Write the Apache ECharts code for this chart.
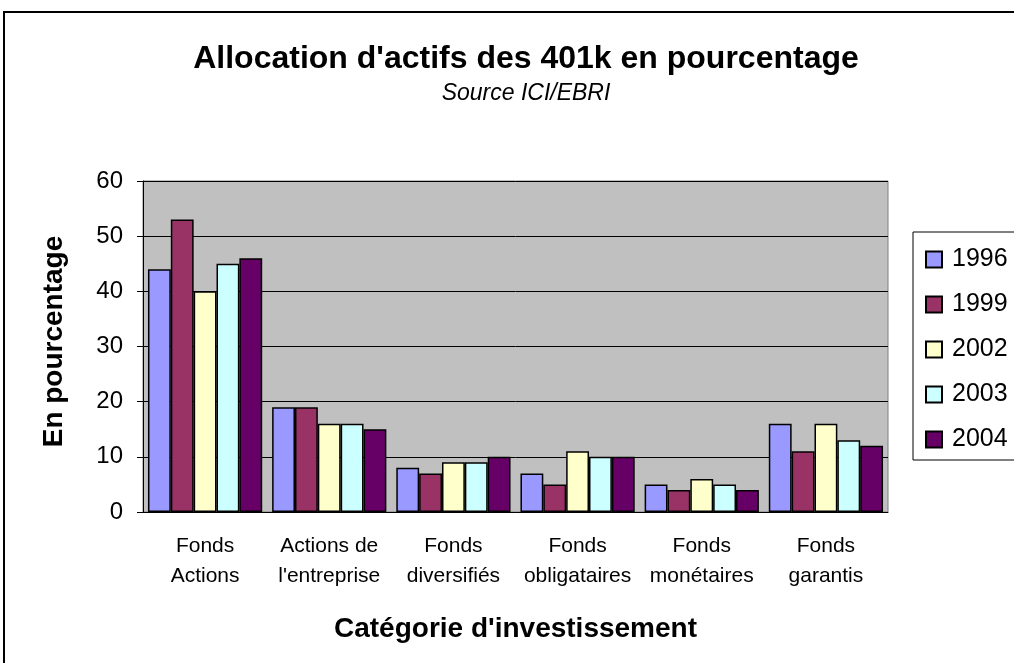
<!DOCTYPE html>
<html>
<head>
<meta charset="utf-8">
<script src="https://cdn.jsdelivr.net/npm/echarts@6/dist/echarts.min.js"></script>
<style>
  html, body { margin: 0; padding: 0; background: #fff; }
  #chart { width: 1014px; height: 663px; }
</style>
</head>
<body>
<div id="chart"></div>
<script>
// catégories et valeurs
const categories = ['Fonds\nActions', "Actions de\nl'entreprise", 'Fonds\ndiversifiés',
  'Fonds\nobligataires', 'Fonds\nmonétaires', 'Fonds\ngarantis'];
const years = ['1996', '1999', '2002', '2003', '2004'];
const v1996 = [44, 19, 8, 7, 5, 16];
const v1999 = [53, 19, 7, 5, 4, 11];
const v2002 = [40, 16, 9, 11, 6, 16];
const v2003 = [45, 16, 9, 10, 5, 13];
const v2004 = [46, 15, 10, 10, 4, 12];
const yTicks = [0, 10, 20, 30, 40, 50, 60];

const seriesValues = [v1996, v1999, v2002, v2003, v2004];
const colors = ['#9999FF', '#993366', '#FFFFCC', '#CCFFFF', '#660066'];
const font = 'Arial, "Liberation Sans", sans-serif';

const chart = echarts.init(document.getElementById('chart'));

const option = {
  animation: false,
  backgroundColor: '#fff',
  textStyle: { fontFamily: font, color: '#000' },
  title: {
    text: "Allocation d'actifs des 401k en pourcentage",
    subtext: 'Source ICI/EBRI',
    left: 521,
    top: 38,
    textAlign: 'center',
    itemGap: 7,
    textStyle: { fontFamily: font, fontSize: 32, fontWeight: 'bold', color: '#000' },
    subtextStyle: { fontFamily: font, fontSize: 23, fontStyle: 'italic', color: '#000' }
  },
  graphic: [{
    type: 'rect',
    z: -1,
    shape: { x: 4, y: 12, width: 1100, height: 700 },
    style: { fill: 'none', stroke: '#000', lineWidth: 2 }
  }],
  legend: {
    data: years,
    orient: 'vertical',
    left: 913,
    top: 232,
    padding: [15, 40, 8, 12],
    itemGap: 20,
    itemWidth: 16,
    itemHeight: 16,
    icon: 'rect',
    borderColor: '#000',
    borderWidth: 1,
    backgroundColor: '#fff',
    textStyle: { fontFamily: font, fontSize: 25, color: '#000', padding: [0, 0, 0, 5] }
  },
  grid: {
    left: 143,
    top: 181,
    right: 126,
    bottom: 151,
    show: true,
    backgroundColor: '#C0C0C0',
    borderColor: '#808080',
    borderWidth: 1
  },
  xAxis: {
    type: 'category',
    data: categories,
    name: "Catégorie d'investissement",
    nameLocation: 'middle',
    nameGap: 103,
    nameTextStyle: { fontFamily: font, fontSize: 28, fontWeight: 'bold', color: '#000' },
    axisLine: { lineStyle: { color: '#000', width: 1 } },
    axisTick: { length: 6, lineStyle: { color: '#000' } },
    axisLabel: { interval: 0, fontFamily: font, fontSize: 21, color: '#000', lineHeight: 30, margin: 19 }
  },
  yAxis: {
    type: 'value',
    min: yTicks[0],
    max: yTicks[yTicks.length - 1],
    interval: 10,
    name: 'En pourcentage',
    nameLocation: 'middle',
    nameGap: 75,
    nameTextStyle: { fontFamily: font, fontSize: 28, fontWeight: 'bold', color: '#000', padding: [0, 0, 0, 10] },
    axisLine: { show: true, lineStyle: { color: '#000', width: 1 } },
    axisTick: { show: true, length: 6, lineStyle: { color: '#000' } },
    axisLabel: { fontFamily: font, fontSize: 24, color: '#000', margin: 20 },
    splitLine: { lineStyle: { color: '#000', width: 1 } }
  },
  series: years.map((y, i) => ({
    name: y,
    type: 'bar',
    data: seriesValues[i],
    barGap: '0%',
    barCategoryGap: '8%',
    itemStyle: { color: colors[i], borderColor: '#000', borderWidth: 1.5 }
  }))
};

chart.setOption(option);
</script>
</body>
</html>
